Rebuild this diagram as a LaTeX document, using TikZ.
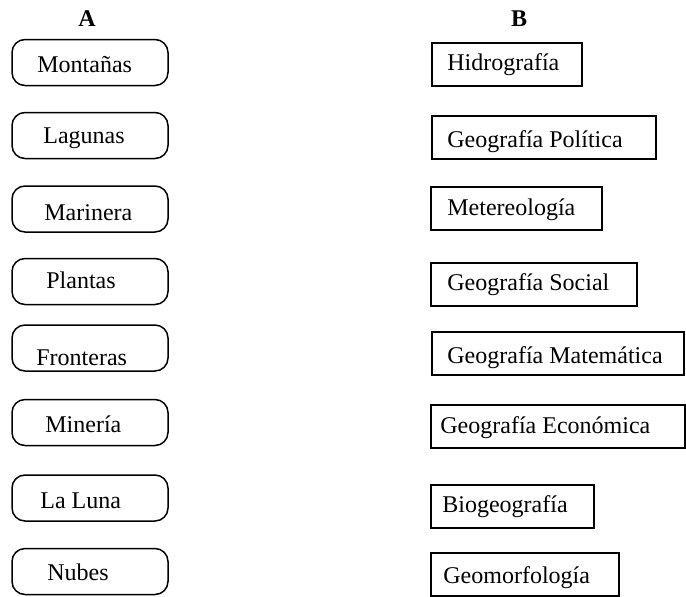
\documentclass[tikz,border=0pt]{standalone}
\usepackage{fontspec}
\setmainfont{Liberation Serif}
\tikzstyle{opt}=[draw, rounded corners=6.5pt, line width=0.75pt, minimum width=78pt, minimum height=23pt, inner sep=0pt]
\tikzstyle{area}=[draw, line width=1pt, minimum height=21.5pt, inner sep=0pt]
\tikzstyle{lbl}=[anchor=base west, inner sep=0pt, font=\fontsize{12}{14}\selectfont]
\tikzstyle{head}=[anchor=base, inner sep=0pt, font=\fontsize{12}{14}\selectfont\bfseries]

\begin{document}
\begin{tikzpicture}[x=0.5pt, y=-0.5pt]
        \useasboundingbox (0, 0) rectangle (686, 596);
        \node[head] (hA) at (87, 26) {A};
        \node[head] (hB) at (519, 26) {B};
        % column A
        \node[opt] (A1) at (90, 62.5) {};
        \node[opt] (A2) at (90, 135.5) {};
        \node[opt] (A3) at (90, 209) {};
        \node[opt] (A4) at (90, 281.5) {};
        \node[opt] (A5) at (90, 348) {};
        \node[opt] (A6) at (90, 422.5) {};
        \node[opt] (A7) at (90, 498) {};
        \node[opt] (A8) at (90, 571.5) {};
        \node[lbl] (tA1) at (37, 72) {Montañas};
        \node[lbl] (tA2) at (43, 143) {Lagunas};
        \node[lbl] (tA3) at (44, 220) {Marinera};
        \node[lbl] (tA4) at (46, 288) {Plantas};
        \node[lbl] (tA5) at (36, 365) {Fronteras};
        \node[lbl] (tA6) at (45, 432) {Minería};
        \node[lbl] (tA7) at (40, 508) {La Luna};
        \node[lbl] (tA8) at (47, 580) {Nubes};
        % column B
        \node[area, minimum width=75pt] (B1) at (507, 64.5) {};
        \node[area, minimum width=112pt] (B2) at (544, 137.5) {};
        \node[area, minimum width=85.5pt] (B3) at (516.5, 208.5) {};
        \node[area, minimum width=103pt] (B4) at (534, 284.5) {};
        \node[area, minimum width=126pt] (B5) at (558, 353) {};
        \node[area, minimum width=127pt] (B6) at (558, 426.5) {};
        \node[area, minimum width=81.5pt] (B7) at (512.5, 506) {};
        \node[area, minimum width=94pt] (B8) at (525, 574) {};
        \node[lbl] (tB1) at (447, 70) {Hidrografía};
        \node[lbl] (tB2) at (447, 147) {Geografía Política};
        \node[lbl] (tB3) at (447, 215) {Metereología};
        \node[lbl] (tB4) at (447, 290) {Geografía Social};
        \node[lbl] (tB5) at (447, 363) {Geografía Matemática};
        \node[lbl] (tB6) at (440, 433) {Geografía Económica};
        \node[lbl] (tB7) at (442, 512) {Biogeografía};
        \node[lbl] (tB8) at (443, 583) {Geomorfología};
    \end{tikzpicture}
\end{document}
